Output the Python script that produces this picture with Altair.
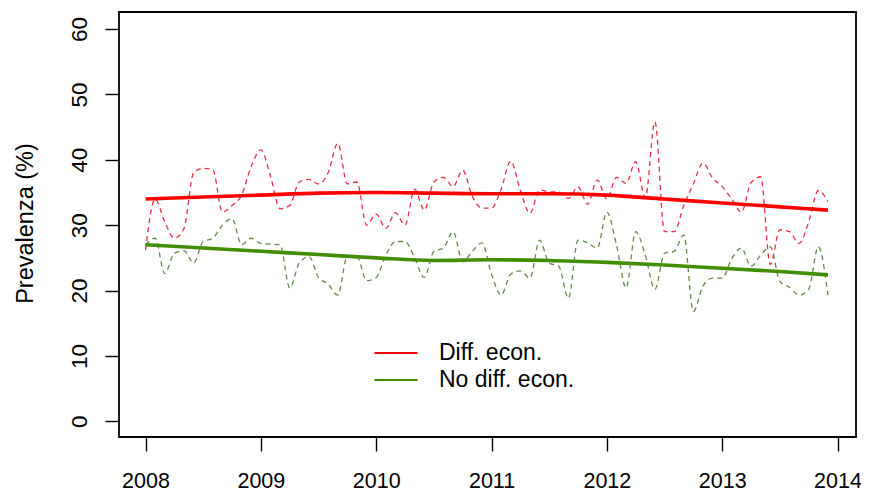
import altair as alt
import pandas as pd

# ---- data (monthly, Jan 2008 .. Dec 2013) ----
months = list(range(72))
diff_econ = [26.2, 34.0, 30.5, 28.0, 29.5, 38.0, 38.7, 38.5, 32.0, 33.0, 34.6, 39.0,
             41.5, 37.5, 32.5, 33.0, 36.6, 37.0, 36.3, 38.0, 42.5, 36.3, 36.6, 30.0,
             31.7, 29.5, 31.9, 30.0, 35.5, 32.3, 36.6, 37.3, 35.9, 38.4, 34.4, 32.6,
             32.6, 35.5, 39.8, 35.3, 31.8, 35.4, 35.1, 35.1, 34.1, 35.9, 33.2, 36.9,
             34.0, 37.3, 36.4, 39.7, 34.2, 45.8, 29.0, 29.0, 33.0, 36.3, 39.5, 37.2,
             35.9, 34.0, 32.0, 36.5, 37.4, 24.0, 29.3, 29.0, 27.2, 30.5, 35.3, 33.6]
no_diff_econ = [27.0, 28.0, 22.6, 25.7, 26.1, 24.2, 27.5, 28.0, 30.0, 31.0, 27.0, 28.0,
                27.2, 27.1, 27.0, 20.4, 24.2, 25.2, 22.0, 21.0, 19.3, 25.2, 25.2, 21.5,
                22.0, 25.4, 27.5, 27.5, 25.0, 22.0, 26.0, 26.5, 29.0, 24.4, 26.0, 27.3,
                22.5, 19.3, 22.5, 23.0, 21.9, 27.7, 24.2, 23.7, 18.8, 27.7, 27.3, 26.5,
                32.0, 27.0, 20.4, 29.0, 25.4, 20.2, 25.7, 26.0, 28.5, 16.8, 20.7, 21.9,
                21.9, 24.9, 26.5, 23.7, 25.4, 26.7, 21.4, 20.5, 19.3, 20.2, 26.7, 19.3]

trend_t = [2008.0, 2008.5, 2009.0, 2009.5, 2010.0, 2010.5, 2011.0, 2011.5, 2012.0,
           2012.5, 2013.0, 2013.5, 2013.917]
trend_diff = [34.0, 34.3, 34.6, 34.9, 35.0, 34.9, 34.8, 34.8, 34.6, 34.0, 33.4, 32.8, 32.3]
trend_nodiff = [27.0, 26.5, 26.0, 25.5, 25.0, 24.6, 24.7, 24.6, 24.3, 23.9, 23.4, 22.9, 22.4]

series_names = ["Diff. econ.", "No diff. econ."]
trend_colors = ["#FF0000", "#3F8F00"]
dash_colors = ["#E8303E", "#5F8C45"]
x_ticks = [2008, 2009, 2010, 2011, 2012, 2013, 2014]
y_ticks = [0, 10, 20, 30, 40, 50, 60]

# ---- tables ----
t_month = [2008 + m / 12 for m in months]
monthly = pd.DataFrame({
    "t": t_month * 2,
    "v": diff_econ + no_diff_econ,
    "s": [series_names[0]] * 72 + [series_names[1]] * 72,
})
trend = pd.DataFrame({
    "t": trend_t * 2,
    "v": trend_diff + trend_nodiff,
    "s": [series_names[0]] * len(trend_t) + [series_names[1]] * len(trend_t),
})

FONT = "Liberation Sans"
xscale = alt.Scale(domain=[2007.77, 2014.16], nice=False, zero=False)
yscale = alt.Scale(domain=[-2.4, 62.6], nice=False, zero=False)

xaxis = alt.Axis(values=x_ticks, format="d", title=None, domain=False, grid=False,
                 tickSize=14, tickWidth=1.4, tickColor="black",
                 labelFontSize=21.5, labelFont=FONT, labelColor="black",
                 labelPadding=19, labelBaseline="top")
yaxis = alt.Axis(values=y_ticks, title="Prevalenza (%)", domain=False, grid=False,
                 tickSize=14, tickWidth=1.4, tickColor="black",
                 labelFontSize=22.5, labelFont=FONT, labelColor="black",
                 labelAngle=-90, labelAlign="center", labelBaseline="alphabetic",
                 labelPadding=19,
                 titleFontSize=23.5, titleFont=FONT, titleColor="black",
                 titleFontWeight="normal", titleAngle=-90, titleAlign="center",
                 titleBaseline="alphabetic", titleX=-87, titleY=211)

dashed = alt.Chart(monthly).mark_line(
    strokeDash=[5, 4], strokeWidth=1.3, interpolate="monotone"
).encode(
    x=alt.X("t:Q", scale=xscale, axis=xaxis),
    y=alt.Y("v:Q", scale=yscale, axis=yaxis),
    color=alt.Color("s:N", scale=alt.Scale(domain=series_names, range=dash_colors),
                    legend=None),
)

trend_layer = alt.Chart(trend).mark_line(
    strokeWidth=3.6, interpolate="monotone"
).encode(
    x=alt.X("t:Q", scale=xscale),
    y=alt.Y("v:Q", scale=yscale),
    color=alt.Color("s:N", scale=alt.Scale(domain=series_names, range=trend_colors),
                    legend=alt.Legend(title=None, orient="none", legendX=265, legendY=329,
                                      symbolType="M-2,0H2", symbolSize=462,
                                      symbolStrokeWidth=2, labelFontSize=23,
                                      labelFont=FONT, labelColor="black",
                                      labelOffset=31, rowPadding=3, padding=0)),
)

chart = alt.layer(dashed, trend_layer).resolve_scale(color="independent").properties(
    width=737, height=425,
    background="white",
    autosize=alt.AutoSizeParams(type="none"),
    padding={"left": 111, "top": 4, "right": 5, "bottom": 62},
).configure_view(stroke="black", strokeWidth=1.8)

chart.save("out.html", embed_options={"renderer": "svg", "actions": False})
